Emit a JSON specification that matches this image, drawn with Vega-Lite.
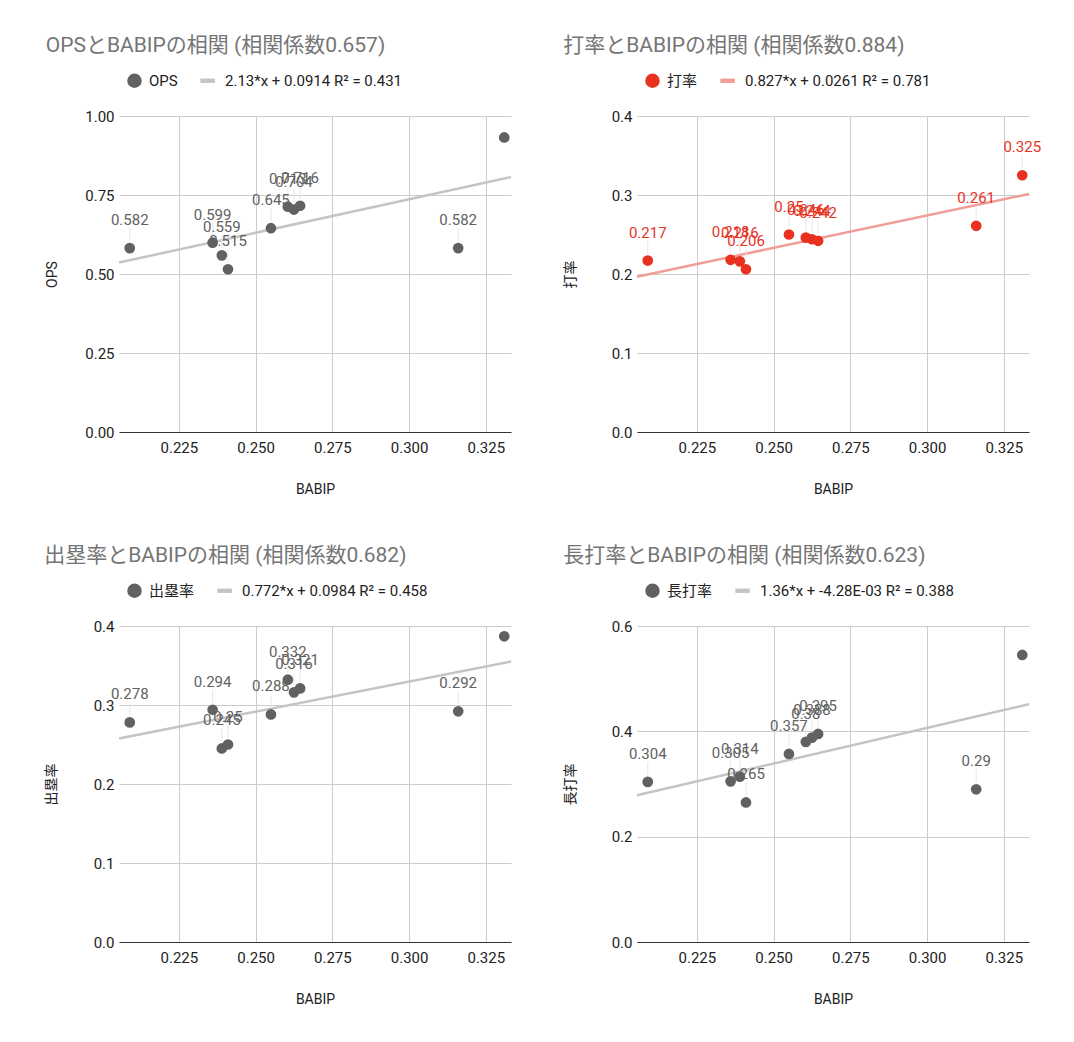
{
  "$schema": "https://vega.github.io/schema/vega-lite/v6.json",
  "padding": {"left": 44, "top": 35, "right": 5, "bottom": 5},
  "background": "white",
  "config": {
    "font": "Roboto, Noto Sans CJK JP",
    "view": {"stroke": null},
    "title": {"font": "Roboto, Noto Sans CJK JP", "fontSize": 21, "fontWeight": "normal", "color": "#757575", "anchor": "start", "frame": "bounds", "offset": 9},
    "axis": {"labelFont": "Roboto", "labelFontSize": 15, "labelColor": "#222222", "titleFont": "Roboto, Noto Sans CJK JP", "titleFontSize": 14, "titleFontWeight": "normal", "titleColor": "#222222", "gridColor": "#cccccc", "domain": false, "ticks": false},
    "axisX": {"domain": true, "domainColor": "#333333", "labelPadding": 8, "titlePadding": 27},
    "axisY": {"labelPadding": 5, "titlePadding": 25},
    "legend": {"orient": "top", "title": null, "labelFont": "Roboto, Noto Sans CJK JP", "labelFontSize": 15, "labelColor": "#222222", "labelLimit": 0, "symbolSize": 210, "columnPadding": 22, "labelOffset": 7, "offset": 19, "padding": 8, "symbolStrokeWidth": 0}
  },
  "data": {"values": [
    {"BABIP": 0.209, "OPS": 0.582, "打率": 0.217, "出塁率": 0.278, "長打率": 0.304},
    {"BABIP": 0.236, "OPS": 0.599, "打率": 0.218, "出塁率": 0.294, "長打率": 0.305},
    {"BABIP": 0.239, "OPS": 0.559, "打率": 0.216, "出塁率": 0.245, "長打率": 0.314},
    {"BABIP": 0.241, "OPS": 0.515, "打率": 0.206, "出塁率": 0.25, "長打率": 0.265},
    {"BABIP": 0.255, "OPS": 0.645, "打率": 0.25, "出塁率": 0.288, "長打率": 0.357},
    {"BABIP": 0.2605, "OPS": 0.713, "打率": 0.246, "出塁率": 0.332, "長打率": 0.38},
    {"BABIP": 0.2625, "OPS": 0.704, "打率": 0.244, "出塁率": 0.316, "長打率": 0.388},
    {"BABIP": 0.2645, "OPS": 0.716, "打率": 0.242, "出塁率": 0.321, "長打率": 0.395},
    {"BABIP": 0.316, "OPS": 0.582, "打率": 0.261, "出塁率": 0.292, "長打率": 0.29},
    {"BABIP": 0.331, "OPS": 0.932, "打率": 0.325, "出塁率": 0.387, "長打率": 0.545}
  ]},
  "columns": 2,
  "spacing": {"row": 49, "column": 47},
  "resolve": {"scale": {"x": "independent", "y": "independent", "color": "independent"}, "legend": {"color": "independent"}},
  "concat": [
    {
      "width": 392, "height": 316,
      "title": "OPSとBABIPの相関 (相関係数0.657)",
      "layer": [
        {"transform": [{"regression": "OPS", "on": "BABIP", "extent": [0.2055, 0.3332]}],
         "mark": {"type": "line", "strokeWidth": 2.5},
         "encoding": {
           "x": {"field": "BABIP", "type": "quantitative", "scale": {"domain": [0.2055, 0.3332], "nice": false, "zero": false}, "axis": {"values": [0.225, 0.25, 0.275, 0.3, 0.325], "format": ".3f"}, "title": "BABIP"},
           "y": {"field": "OPS", "type": "quantitative", "scale": {"domain": [0, 1], "nice": false}, "axis": {"values": [0, 0.25, 0.5, 0.75, 1], "format": ".2f"}, "title": "OPS"},
           "color": {"datum": "2.13*x + 0.0914 R² = 0.431", "type": "nominal",
             "scale": {"domain": ["OPS", "2.13*x + 0.0914 R² = 0.431"], "range": ["#616161", "#c4c4c4"]},
             "legend": {"encode": {"symbols": {"update": {"shape": {"signal": "datum.value === 'OPS' ? 'circle' : 'M-1.4,-0.3H0.6V0.3H-1.4Z'"}, "fill": {"signal": "datum.value === 'OPS' ? '#616161' : '#c4c4c4'"}, "stroke": {"value": "transparent"}, "opacity": {"value": 1}}}}}}
         }},
        {"transform": [{"filter": "datum.OPS < 0.9"}],
         "mark": {"type": "rule", "stroke": "#e6e6e6", "strokeWidth": 1, "yOffset": -7, "y2Offset": -20},
         "encoding": {"x": {"field": "BABIP", "type": "quantitative"}, "y": {"field": "OPS", "type": "quantitative"}, "y2": {"field": "OPS"}}},
        {"mark": {"type": "point", "filled": true, "size": 115, "opacity": 1},
         "encoding": {"x": {"field": "BABIP", "type": "quantitative"}, "y": {"field": "OPS", "type": "quantitative"}, "color": {"datum": "OPS", "type": "nominal"}}},
        {"transform": [{"filter": "datum.OPS < 0.9"}],
         "mark": {"type": "text", "dy": -28, "fontSize": 15, "color": "#616161", "font": "Roboto"},
         "encoding": {"x": {"field": "BABIP", "type": "quantitative"}, "y": {"field": "OPS", "type": "quantitative"}, "text": {"field": "OPS", "type": "quantitative", "format": ".3~f"}}}
      ]
    },
    {
      "width": 392, "height": 316,
      "title": "打率とBABIPの相関 (相関係数0.884)",
      "layer": [
        {"transform": [{"regression": "打率", "on": "BABIP", "extent": [0.2055, 0.3332]}],
         "mark": {"type": "line", "strokeWidth": 2.5},
         "encoding": {
           "x": {"field": "BABIP", "type": "quantitative", "scale": {"domain": [0.2055, 0.3332], "nice": false, "zero": false}, "axis": {"values": [0.225, 0.25, 0.275, 0.3, 0.325], "format": ".3f"}, "title": "BABIP"},
           "y": {"field": "打率", "type": "quantitative", "scale": {"domain": [0, 0.4], "nice": false}, "axis": {"values": [0, 0.1, 0.2, 0.3, 0.4], "format": ".1f", "titlePadding": 34}, "title": "打率"},
           "color": {"datum": "0.827*x + 0.0261 R² = 0.781", "type": "nominal",
             "scale": {"domain": ["打率", "0.827*x + 0.0261 R² = 0.781"], "range": ["#e8321f", "#f09d97"]},
             "legend": {"encode": {"symbols": {"update": {"shape": {"signal": "datum.value === '打率' ? 'circle' : 'M-1.4,-0.3H0.6V0.3H-1.4Z'"}, "fill": {"signal": "datum.value === '打率' ? '#e8321f' : '#f09d97'"}, "stroke": {"value": "transparent"}, "opacity": {"value": 1}}}}}}
         }},
        {"mark": {"type": "rule", "stroke": "#e6e6e6", "strokeWidth": 1, "yOffset": -7, "y2Offset": -20},
         "encoding": {"x": {"field": "BABIP", "type": "quantitative"}, "y": {"field": "打率", "type": "quantitative"}, "y2": {"field": "打率"}}},
        {"mark": {"type": "point", "filled": true, "size": 115, "opacity": 1},
         "encoding": {"x": {"field": "BABIP", "type": "quantitative"}, "y": {"field": "打率", "type": "quantitative"}, "color": {"datum": "打率", "type": "nominal"}}},
        {"mark": {"type": "text", "dy": -28, "fontSize": 15, "color": "#e8321f", "font": "Roboto"},
         "encoding": {"x": {"field": "BABIP", "type": "quantitative"}, "y": {"field": "打率", "type": "quantitative"}, "text": {"field": "打率", "type": "quantitative", "format": ".3~f"}}}
      ]
    },
    {
      "width": 392, "height": 316,
      "title": "出塁率とBABIPの相関 (相関係数0.682)",
      "layer": [
        {"transform": [{"regression": "出塁率", "on": "BABIP", "extent": [0.2055, 0.3332]}],
         "mark": {"type": "line", "strokeWidth": 2.5},
         "encoding": {
           "x": {"field": "BABIP", "type": "quantitative", "scale": {"domain": [0.2055, 0.3332], "nice": false, "zero": false}, "axis": {"values": [0.225, 0.25, 0.275, 0.3, 0.325], "format": ".3f"}, "title": "BABIP"},
           "y": {"field": "出塁率", "type": "quantitative", "scale": {"domain": [0, 0.4], "nice": false}, "axis": {"values": [0, 0.1, 0.2, 0.3, 0.4], "format": ".1f", "titlePadding": 35}, "title": "出塁率"},
           "color": {"datum": "0.772*x + 0.0984 R² = 0.458", "type": "nominal",
             "scale": {"domain": ["出塁率", "0.772*x + 0.0984 R² = 0.458"], "range": ["#616161", "#c4c4c4"]},
             "legend": {"encode": {"symbols": {"update": {"shape": {"signal": "datum.value === '出塁率' ? 'circle' : 'M-1.4,-0.3H0.6V0.3H-1.4Z'"}, "fill": {"signal": "datum.value === '出塁率' ? '#616161' : '#c4c4c4'"}, "stroke": {"value": "transparent"}, "opacity": {"value": 1}}}}}}
         }},
        {"transform": [{"filter": "datum['出塁率'] < 0.38"}],
         "mark": {"type": "rule", "stroke": "#e6e6e6", "strokeWidth": 1, "yOffset": -7, "y2Offset": -20},
         "encoding": {"x": {"field": "BABIP", "type": "quantitative"}, "y": {"field": "出塁率", "type": "quantitative"}, "y2": {"field": "出塁率"}}},
        {"mark": {"type": "point", "filled": true, "size": 115, "opacity": 1},
         "encoding": {"x": {"field": "BABIP", "type": "quantitative"}, "y": {"field": "出塁率", "type": "quantitative"}, "color": {"datum": "出塁率", "type": "nominal"}}},
        {"transform": [{"filter": "datum['出塁率'] < 0.38"}],
         "mark": {"type": "text", "dy": -28, "fontSize": 15, "color": "#616161", "font": "Roboto"},
         "encoding": {"x": {"field": "BABIP", "type": "quantitative"}, "y": {"field": "出塁率", "type": "quantitative"}, "text": {"field": "出塁率", "type": "quantitative", "format": ".3~f"}}}
      ]
    },
    {
      "width": 392, "height": 316,
      "title": "長打率とBABIPの相関 (相関係数0.623)",
      "layer": [
        {"transform": [{"regression": "長打率", "on": "BABIP", "extent": [0.2055, 0.3332]}],
         "mark": {"type": "line", "strokeWidth": 2.5},
         "encoding": {
           "x": {"field": "BABIP", "type": "quantitative", "scale": {"domain": [0.2055, 0.3332], "nice": false, "zero": false}, "axis": {"values": [0.225, 0.25, 0.275, 0.3, 0.325], "format": ".3f"}, "title": "BABIP"},
           "y": {"field": "長打率", "type": "quantitative", "scale": {"domain": [0, 0.6], "nice": false}, "axis": {"values": [0, 0.2, 0.4, 0.6], "format": ".1f", "titlePadding": 34}, "title": "長打率"},
           "color": {"datum": "1.36*x + -4.28E-03 R² = 0.388", "type": "nominal",
             "scale": {"domain": ["長打率", "1.36*x + -4.28E-03 R² = 0.388"], "range": ["#616161", "#c4c4c4"]},
             "legend": {"encode": {"symbols": {"update": {"shape": {"signal": "datum.value === '長打率' ? 'circle' : 'M-1.4,-0.3H0.6V0.3H-1.4Z'"}, "fill": {"signal": "datum.value === '長打率' ? '#616161' : '#c4c4c4'"}, "stroke": {"value": "transparent"}, "opacity": {"value": 1}}}}}}
         }},
        {"transform": [{"filter": "datum['長打率'] < 0.5"}],
         "mark": {"type": "rule", "stroke": "#e6e6e6", "strokeWidth": 1, "yOffset": -7, "y2Offset": -20},
         "encoding": {"x": {"field": "BABIP", "type": "quantitative"}, "y": {"field": "長打率", "type": "quantitative"}, "y2": {"field": "長打率"}}},
        {"mark": {"type": "point", "filled": true, "size": 115, "opacity": 1},
         "encoding": {"x": {"field": "BABIP", "type": "quantitative"}, "y": {"field": "長打率", "type": "quantitative"}, "color": {"datum": "長打率", "type": "nominal"}}},
        {"transform": [{"filter": "datum['長打率'] < 0.5"}],
         "mark": {"type": "text", "dy": -28, "fontSize": 15, "color": "#616161", "font": "Roboto"},
         "encoding": {"x": {"field": "BABIP", "type": "quantitative"}, "y": {"field": "長打率", "type": "quantitative"}, "text": {"field": "長打率", "type": "quantitative", "format": ".3~f"}}}
      ]
    }
  ]
}
